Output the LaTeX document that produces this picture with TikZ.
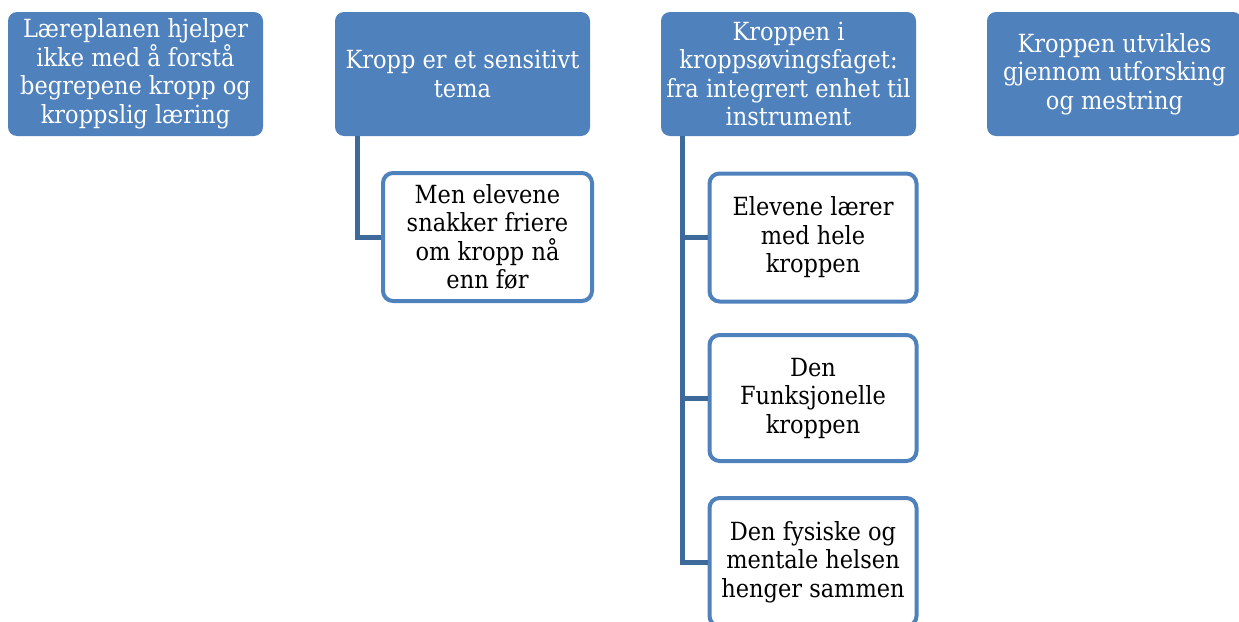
\documentclass[tikz,border=0pt]{standalone}
\usepackage{fontspec}
\setmainfont{DejaVu Serif Condensed}
\definecolor{boxblue}{HTML}{4F81BD}
\definecolor{linkblue}{HTML}{3D6A9A}
\begin{document}
\begin{tikzpicture}[
    x=1pt, y=-1pt,
    topbox/.style={
      rectangle,
      rounded corners=9pt,
      fill=boxblue,
      text=white,
      align=center,
      minimum width=255pt,
      minimum height=124pt,
      inner sep=0pt,
      font=\fontsize{25}{28.5}\selectfont
    },
    subbox/.style={
      rectangle,
      rounded corners=10pt,
      draw=boxblue,
      line width=4pt,
      fill=white,
      text=black,
      align=center,
      minimum width=207pt,
      minimum height=128pt,
      inner sep=0pt,
      font=\fontsize{25}{28.5}\selectfont
    },
    link/.style={
      draw=linkblue,
      line width=5pt
    }
  ]

    % Canvas
    \useasboundingbox (0,0) rectangle (1239,621);

    % Top row
    \node[topbox] (tb1) at (135.5,74) {Læreplanen hjelper\\ikke med å forstå\\begrepene kropp og\\kroppslig læring};
    \node[topbox] (tb2) at (462.5,74) {Kropp er et sensitivt\\tema};
    \node[topbox] (tb3) at (788.5,74) {Kroppen i\\kroppsøvingsfaget:\\fra integrert enhet til\\instrument};
    \node[topbox] (tb4) at (1114.5,74) {Kroppen utvikles\\gjennom utforsking\\og mestring};

    % Children of second column
    \node[subbox, minimum width=209pt] (sub2a) at (487.5,237) {Men elevene\\snakker friere\\om kropp nå\\enn før};

    % Children of third column
    \node[subbox] (sub3a) at (813,237.5) {Elevene lærer\\med hele\\kroppen};
    \node[subbox, minimum height=126pt] (sub3b) at (813,398) {Den\\Funksjonelle\\kroppen};
    \node[subbox] (sub3c) at (813,562) {Den fysiske og\\mentale helsen\\henger sammen};

    % Connectors
    \draw[link] ([xshift=23pt]tb2.south west) |- (sub2a.west);
    \foreach \child in {sub3a,sub3b,sub3c} {
      \draw[link] ([xshift=22pt]tb3.south west) |- (\child.west);
    }

  \end{tikzpicture}
\end{document}
